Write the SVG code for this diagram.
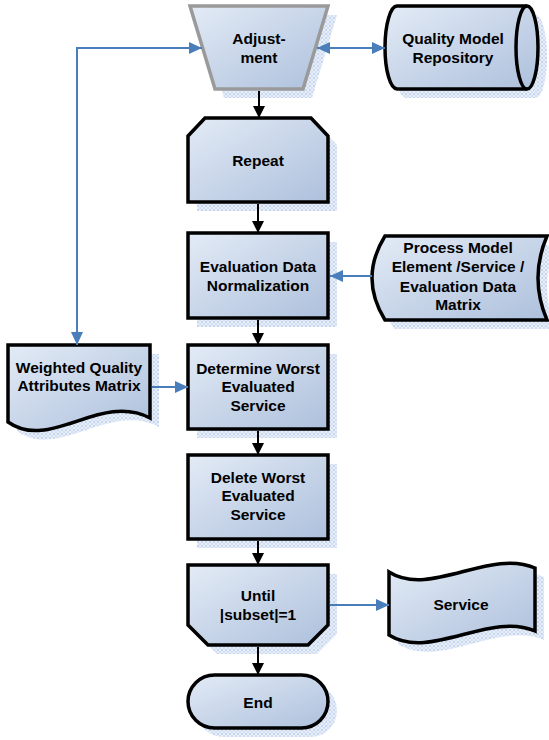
<svg xmlns="http://www.w3.org/2000/svg" width="549" height="740" viewBox="0 0 549 740">
  <defs>
    <linearGradient id="fill" x1="0" y1="0" x2="1" y2="1">
      <stop offset="0" stop-color="#e3ebf6"/>
      <stop offset="1" stop-color="#adc0dc"/>
    </linearGradient>
    <pattern id="mesh" width="4" height="4" patternUnits="userSpaceOnUse">
      <rect width="4" height="4" fill="#e9eff9"/>
      <rect width="2" height="2" fill="#c6d6ee"/>
      <rect x="2" y="2" width="2" height="2" fill="#d2dff2"/>
    </pattern>
    <marker id="arrBlue" markerUnits="userSpaceOnUse" markerWidth="14" markerHeight="12" refX="13" refY="6" orient="auto-start-reverse">
      <path d="M0,0 L13,6 L0,12 Z" fill="#4a7ebb"/>
    </marker>
    <marker id="arrBlack" markerUnits="userSpaceOnUse" markerWidth="14" markerHeight="12" refX="12" refY="6" orient="auto">
      <path d="M0,0 L12,6 L0,12 Z" fill="#000"/>
    </marker>
    <style>
      .shadow { fill: url(#mesh); }
      .shape { fill: url(#fill); stroke: #000; stroke-width: 3.5; stroke-linejoin: miter; }
      .gray { stroke: #9a9a9a; }
      .label { font-family: "Liberation Sans", Arial, sans-serif; font-weight: bold; font-size: 15.5px; fill: #000; text-anchor: middle; }
      .flow { fill: none; stroke: #000; stroke-width: 2; marker-end: url(#arrBlack); }
      .data { fill: none; stroke: #4a7ebb; stroke-width: 2; }
    </style>
    <path id="p-adjust" d="M190,6 L328,6 L303,89 L215,89 Z"/>
    <path id="p-repo" d="M397,6 L527,6 A11,41.5 0 0 1 527,89 L397,89 A12,41.5 0 0 1 397,6 Z"/>
    <path id="p-repeat" d="M205,118 L311,118 L328,136 L328,202 L188,202 L188,136 Z"/>
    <rect id="p-norm" x="188" y="233" width="140" height="85"/>
    <path id="p-proc" d="M385,236 L547,236 Q529,278 547,320 L385,320 Q359,278 385,236 Z"/>
    <path id="p-weight" d="M8,345 L150,345 L150,418 C100,392 50,452 8,422 Z"/>
    <rect id="p-worst" x="188" y="345" width="140" height="84"/>
    <rect id="p-delete" x="188" y="455" width="140" height="84"/>
    <path id="p-until" d="M188,565 L328,565 L328,625 L308,645 L208,645 L188,625 Z"/>
    <path id="p-service" d="M389,572 C430,598 490,548 535,568 L535,631 C490,611 430,661 389,635 Z"/>
    <rect id="p-end" x="188" y="675" width="140" height="53" rx="26.5" ry="26.5"/>
  </defs>

  <rect width="549" height="740" fill="#fff"/>

  <g id="adjustment">
    <use href="#p-adjust" class="shadow" transform="translate(9,9)"/>
    <use href="#p-adjust" class="shape gray"/>
    <text class="label" x="259" y="43.5">Adjust-</text>
    <text class="label" x="259" y="62.5">ment</text>
  </g>

  <g id="quality-model-repository">
    <use href="#p-repo" class="shadow" transform="translate(9,9)"/>
    <use href="#p-repo" class="shape"/>
    <path d="M527,6 A11,41.5 0 0 0 527,89" fill="none" stroke="#000" stroke-width="3.5"/>
    <text class="label" x="453" y="43.5">Quality Model</text>
    <text class="label" x="453" y="62.5">Repository</text>
  </g>

  <g id="repeat">
    <use href="#p-repeat" class="shadow" transform="translate(9,9)"/>
    <use href="#p-repeat" class="shape"/>
    <text class="label" x="258" y="165.5">Repeat</text>
  </g>

  <g id="normalization">
    <use href="#p-norm" class="shadow" transform="translate(9,9)"/>
    <use href="#p-norm" class="shape"/>
    <text class="label" x="258" y="271.5">Evaluation Data</text>
    <text class="label" x="258" y="290.5">Normalization</text>
  </g>

  <g id="process-model-matrix">
    <use href="#p-proc" class="shadow" transform="translate(9,9)"/>
    <use href="#p-proc" class="shape"/>
    <text class="label" x="458" y="252.5">Process Model</text>
    <text class="label" x="458" y="272">Element /Service /</text>
    <text class="label" x="458" y="291.5">Evaluation Data</text>
    <text class="label" x="458" y="310">Matrix</text>
  </g>

  <g id="weighted-matrix">
    <use href="#p-weight" class="shadow" transform="translate(9,9)"/>
    <use href="#p-weight" class="shape"/>
    <text class="label" x="79" y="372.5">Weighted Quality</text>
    <text class="label" x="79" y="390.5">Attributes Matrix</text>
  </g>

  <g id="determine-worst">
    <use href="#p-worst" class="shadow" transform="translate(9,9)"/>
    <use href="#p-worst" class="shape"/>
    <text class="label" x="258" y="373.5">Determine Worst</text>
    <text class="label" x="258" y="392">Evaluated</text>
    <text class="label" x="258" y="410.5">Service</text>
  </g>

  <g id="delete-worst">
    <use href="#p-delete" class="shadow" transform="translate(9,9)"/>
    <use href="#p-delete" class="shape"/>
    <text class="label" x="258" y="482.5">Delete Worst</text>
    <text class="label" x="258" y="501">Evaluated</text>
    <text class="label" x="258" y="519.5">Service</text>
  </g>

  <g id="until">
    <use href="#p-until" class="shadow" transform="translate(9,9)"/>
    <use href="#p-until" class="shape"/>
    <text class="label" x="258" y="600.5">Until</text>
    <text class="label" x="258" y="620">|subset|=1</text>
  </g>

  <g id="service">
    <use href="#p-service" class="shadow" transform="translate(9,9)"/>
    <use href="#p-service" class="shape"/>
    <text class="label" x="461" y="609.5">Service</text>
  </g>

  <g id="end">
    <use href="#p-end" class="shadow" transform="translate(9,9)"/>
    <use href="#p-end" class="shape"/>
    <text class="label" x="258" y="707.5">End</text>
  </g>

  <g id="connectors">
    <!-- main sequence -->
    <path class="flow" d="M259,91 V118"/>
    <path class="flow" d="M258,204 V233"/>
    <path class="flow" d="M258,320 V345"/>
    <path class="flow" d="M258,431 V455"/>
    <path class="flow" d="M258,541 V565"/>
    <path class="flow" d="M258,647 V675"/>
    <!-- data links -->
    <path class="data" d="M77,345 V48 H202" marker-start="url(#arrBlue)" marker-end="url(#arrBlue)"/>
    <path class="data" d="M317,48 H385" marker-start="url(#arrBlue)" marker-end="url(#arrBlue)"/>
    <path class="data" d="M372,276 H330" marker-end="url(#arrBlue)"/>
    <path class="data" d="M152,387 H188" marker-end="url(#arrBlue)"/>
    <path class="data" d="M330,605 H389" marker-end="url(#arrBlue)"/>
  </g>
</svg>
